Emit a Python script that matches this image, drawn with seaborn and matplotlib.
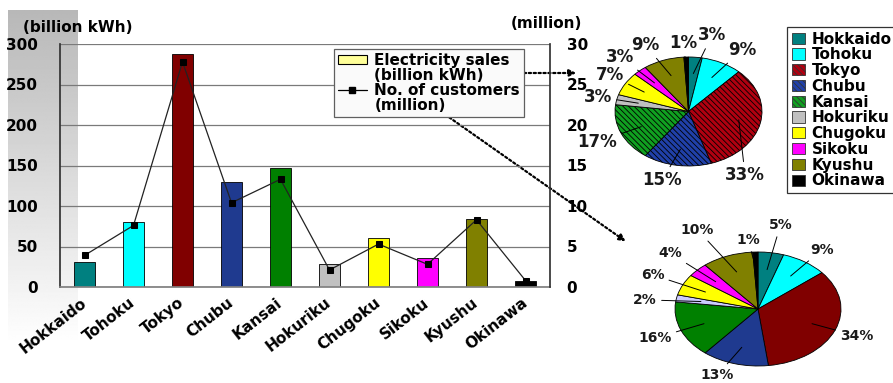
import numpy as np
import pandas as pd
import matplotlib
matplotlib.use("Agg")
import matplotlib.pyplot as plt
import seaborn as sns
from matplotlib.patches import Patch, FancyArrowPatch
from matplotlib.lines import Line2D

# ---- data -----------------------------------------------------------------
regions = ["Hokkaido", "Tohoku", "Tokyo", "Chubu", "Kansai",
           "Hokuriku", "Chugoku", "Sikoku", "Kyushu", "Okinawa"]
sales_bkwh = [31, 80, 288, 130, 147, 28, 60, 36, 84, 7]
customers_m = [3.9, 7.6, 27.8, 10.4, 13.3, 2.1, 5.3, 2.8, 8.3, 0.8]
sales_share_pct = [3, 9, 33, 15, 17, 3, 7, 3, 9, 1]
customer_share_pct = [5, 9, 34, 13, 16, 2, 6, 4, 10, 1]

bar_colors = ["#008080", "#00FFFF", "#800000", "#1F3A8F", "#008000",
              "#C0C0C0", "#FFFF00", "#FF00FF", "#808000", "#000000"]
sales_pie_colors = ["#008080", "#00FFFF", "#B00010", "#2040A8", "#10A020",
                    "#C0C0C0", "#FFFF00", "#FF00FF", "#808000", "#000000"]
customer_pie_colors = ["#008080", "#00FFFF", "#800000", "#1F3A8F", "#008000",
                       "#CCCCFF", "#FFFF00", "#FF00FF", "#808000", "#000000"]
hatched_regions = ["Tokyo", "Chubu", "Kansai"]

df = pd.DataFrame({"region": regions, "sales": sales_bkwh,
                   "customers": customers_m})

# ---- style ----------------------------------------------------------------
sns.set_theme(style="white")
plt.rcParams["font.family"] = ["DejaVu Sans"]
plt.rcParams["font.weight"] = "bold"
plt.rcParams["text.color"] = "black"
plt.rcParams["xtick.color"] = "black"
plt.rcParams["ytick.color"] = "black"
plt.rcParams["hatch.linewidth"] = 0.6

W, H = 893, 383
fig = plt.figure(figsize=(W / 100, H / 100), dpi=100)


def fbox(x0, y0, x1, y1):
    """Pixel box (top-left origin) -> figure fraction rect."""
    return [x0 / W, 1 - y1 / H, (x1 - x0) / W, (y1 - y0) / H]


# grey fade panel behind the left axis
gax = fig.add_axes(fbox(8, 10, 78, 345))
gax.imshow(np.linspace(0.72, 1.0, 256)[:, None], cmap="gray", vmin=0, vmax=1,
           aspect="auto", interpolation="bilinear")
gax.axis("off")
gax.set_zorder(0)

# ---- bar + line chart -----------------------------------------------------
ax = fig.add_axes(fbox(60, 44, 550, 287))
ax.set_zorder(2)
ax.patch.set_visible(False)

sns.barplot(data=df, x="region", y="sales", hue="region", palette=bar_colors,
            dodge=False, width=0.42, edgecolor="black", linewidth=0.6,
            saturation=1, legend=False, ax=ax)
ax.set_xlim(-0.5, len(regions) - 0.5)
ax.set_ylim(0, 300)
ax.set_yticks(np.arange(0, 301, 50))
ax.yaxis.grid(True, color="#7A7A7A", lw=0.9)
ax.xaxis.grid(False)
ax.set_axisbelow(True)
ax.set_xlabel("")
ax.set_ylabel("")
ax.tick_params(axis="y", length=0, pad=16, labelsize=11, labelcolor="black")
ax.set_xticks(np.arange(len(regions)))
ax.set_xticklabels(regions, rotation=38, ha="right", va="center",
                   rotation_mode="anchor", fontsize=11, fontweight="bold",
                   color="black")
ax.tick_params(axis="x", which="major", length=0, pad=10)
ax.set_xticks(np.arange(-0.5, len(regions), 1), minor=True)
ax.tick_params(axis="x", which="minor", direction="in", length=4,
               color="#555555", width=0.8)
ax.spines["top"].set_visible(False)
ax.spines["right"].set_visible(False)
ax.spines["left"].set_color("#333333")
ax.spines["bottom"].set_color("#808080")
for lab in ax.get_yticklabels():
    lab.set_fontweight("bold")

ax2 = ax.twinx()
ax2.set_zorder(3)
sns.lineplot(x=np.arange(len(regions)), y=customers_m, ax=ax2,
             color="#222222", lw=0.9, marker="s", markersize=4.5,
             markerfacecolor="black", markeredgecolor="black")
ax2.set_ylim(0, 30)
ax2.set_yticks(np.arange(0, 31, 5))
ax2.grid(False)
ax2.tick_params(axis="y", length=0, pad=12, labelsize=11, labelcolor="black")
for lab in ax2.get_yticklabels():
    lab.set_fontweight("bold")
for s in ["top", "left", "bottom"]:
    ax2.spines[s].set_visible(False)
ax2.spines["right"].set_color("#333333")

fig.text(23 / W, 1 - 27 / H, "(billion kWh)", ha="left", va="center",
         fontsize=11, fontweight="bold")
fig.text(546 / W, 1 - 24 / H, "(million)", ha="center", va="center",
         fontsize=11, fontweight="bold")

blank = Patch(facecolor="none", edgecolor="none")
leg1 = fig.legend(
    handles=[Patch(facecolor="#FFFF99", edgecolor="black", lw=0.8), blank,
             Line2D([], [], color="black", lw=0.9, marker="s", markersize=4),
             blank],
    labels=["Electricity sales", "(billion kWh)", "No. of customers",
            "(million)"],
    loc="upper left", bbox_to_anchor=(334 / W, 1 - 49 / H), fontsize=11,
    frameon=True, fancybox=False, edgecolor="#606060", facecolor="#FAFAFA",
    framealpha=1, handlelength=1.9, handleheight=0.6, handletextpad=0.5,
    borderpad=0.25, labelspacing=0.0, borderaxespad=0)
leg1.get_frame().set_linewidth(0.9)
leg1.set_zorder(5)

# ---- pies -----------------------------------------------------------------
def draw_pie(rect, shares, colors, label_pos, fontsize, hatch_on):
    pax = fig.add_axes(rect)
    wedges, _ = pax.pie(shares, colors=colors, startangle=90,
                        counterclock=False,
                        wedgeprops=dict(edgecolor="black", linewidth=0.6))
    pax.set_aspect("auto")
    pax.set_xlim(-1, 1)
    pax.set_ylim(-1, 1)
    pax.set_axis_off()
    if hatch_on:
        for w, r in zip(wedges, regions):
            if r in hatched_regions:
                w.set_hatch("\\\\\\\\\\\\")
    for w, s, (lx, ly) in zip(wedges, shares, label_pos):
        mid = np.deg2rad((w.theta1 + w.theta2) / 2)
        tx, ty = 0.7 * np.cos(mid), 0.7 * np.sin(mid)
        pax.annotate(f"{s}%", xy=(tx, ty), xytext=(lx, ly),
                     ha="center", va="center", fontsize=fontsize,
                     fontweight="bold", color="#1A1A1A",
                     annotation_clip=False,
                     arrowprops=dict(arrowstyle="-", lw=0.7, color="black",
                                     shrinkA=1, shrinkB=0))
    return pax


sales_label_pos = [(0.32, 1.40), (0.73, 1.13), (0.77, -1.17), (-0.36, -1.26),
                   (-1.24, -0.56), (-1.23, 0.27), (-1.07, 0.67),
                   (-0.93, 1.0), (-0.59, 1.22), (-0.07, 1.26)]
cust_label_pos = [(0.27, 1.47), (0.77, 1.04), (1.19, -0.47), (-0.49, -1.16),
                  (-1.24, -0.51), (-1.36, 0.16), (-1.27, 0.60),
                  (-1.06, 0.98), (-0.73, 1.39), (-0.12, 1.21)]

draw_pie(fbox(615, 57, 762, 166), sales_share_pct, sales_pie_colors,
         sales_label_pos, 12, True)
draw_pie(fbox(675, 252, 841, 366), customer_share_pct, customer_pie_colors,
         cust_label_pos, 10, False)

# region legend for the pies
region_handles = []
for r, c in zip(regions, sales_pie_colors):
    region_handles.append(Patch(facecolor=c, edgecolor="#333333", lw=0.6,
                                hatch="\\\\\\\\\\\\" if r in hatched_regions else None))
leg2 = fig.legend(handles=region_handles, labels=regions, loc="upper left",
                  bbox_to_anchor=(787 / W, 1 - 27 / H), fontsize=11,
                  frameon=True, fancybox=False, edgecolor="#333333",
                  facecolor="white", framealpha=1, handlelength=0.9,
                  handleheight=0.75, handletextpad=0.4, labelspacing=0.05,
                  borderpad=0.3, borderaxespad=0)
leg2.get_frame().set_linewidth(0.9)

# dotted pointers from the legend entries to the pies
fig.add_artist(FancyArrowPatch(
    (482 / W, 1 - 73 / H), (579 / W, 1 - 73 / H), transform=fig.transFigure,
    arrowstyle="-|>", mutation_scale=10, linestyle=(0, (1, 1.2)), lw=1.6,
    color="black"))
fig.add_artist(FancyArrowPatch(
    (443 / W, 1 - 113 / H), (628 / W, 1 - 243 / H), transform=fig.transFigure,
    arrowstyle="-|>", mutation_scale=10, linestyle=(0, (1, 1.2)), lw=1.6,
    color="black"))

fig.savefig("out.png", dpi=100, facecolor="white")
